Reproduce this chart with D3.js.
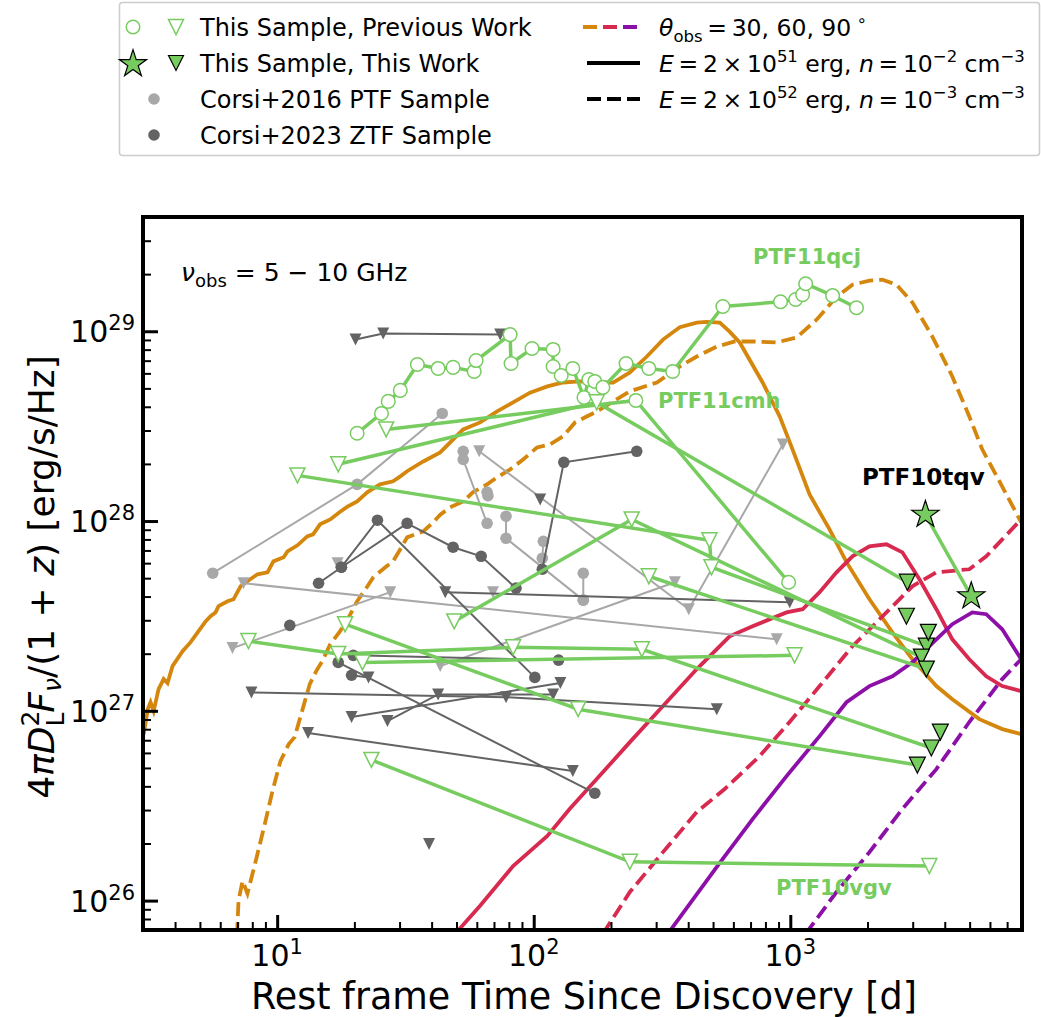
<!DOCTYPE html>
<html>
<head>
<meta charset="utf-8">
<script src="https://cdn.jsdelivr.net/npm/d3@7"></script>
<style>
  body { margin: 0; background: #fff; }
  svg text { font-family: "DejaVu Sans", sans-serif; }
</style>
</head>
<body>
<svg id="chart" width="1041" height="1017"></svg>
<script>
// ---- model light curves: [rest-frame days, 4 pi D^2 F / (1+z)] ----
const orangeSolid = [[3.02,7.54e26],[3.13,1.02e27],[3.21,1.11e27],[3.30,9.96e26],[3.45,1.30e27],[3.61,1.47e27],[3.74,1.40e27],[3.91,1.72e27],[4.28,2.06e27],[4.60,2.30e27],[4.94,2.63e27],[5.26,2.96e27],[5.50,3.15e27],[5.75,3.30e27],[5.91,3.56e27],[6.41,3.78e27],[6.76,3.87e27],[7.20,4.53e27],[7.66,4.82e27],[8.38,5.24e27],[9.17,5.37e27],[9.67,6.13e27],[10.6,6.44e27],[10.97,6.92e27],[12.0,7.45e27],[13.1,8.30e27],[13.8,8.51e27],[14.7,9.61e27],[16.1,1.02e28],[17.6,1.12e28],[18.8,1.19e28],[20.5,1.27e28],[22.5,1.42e28],[25.2,1.56e28],[28.3,1.62e28],[30.2,1.72e28],[32.1,1.83e28],[37.1,2.06e28],[43.2,2.30e28],[53.1,3.04e28],[61.8,3.31e28],[72.0,3.78e28],[83.1,4.22e28],[96.7,4.75e28],[113,5.12e28],[130,5.37e28],[151,5.44e28],[176,5.37e28],[204,5.37e28],[237,6.07e28],[276,7.36e28],[319,9.04e28],[371,1.05e29],[432,1.11e29],[472,1.12e29],[531,1.11e29],[580,9.96e28],[635,8.73e28],[780,5.37e28],[909,3.56e28],[1021,2.38e28],[1189,1.38e28],[1422,9.04e27],[1656,6.07e27],[2035,3.87e27],[2500,2.59e27],[2991,1.87e27],[3710,1.35e27],[4280,1.15e27],[5453,9.04e26],[6700,8.01e26],[7940,7.54e26]];
const orangeDashed = [[6.97,6.5e25],[7.07,9.98e25],[7.33,1.27e26],[7.66,1.09e26],[8.01,1.38e26],[8.38,1.76e26],[9.01,2.63e26],[9.59,3.78e26],[10.3,5.43e26],[11.1,6.68e26],[11.7,7.27e26],[12.5,9.96e26],[13.4,1.38e27],[14.2,1.62e27],[15.0,1.83e27],[16.1,2.24e27],[17.6,2.63e27],[19.3,3.23e27],[20.5,3.78e27],[22.1,4.37e27],[23.7,5.06e27],[26.4,5.71e27],[28.3,6.13e27],[30.2,7.10e27],[32.1,8.20e27],[34.5,8.51e27],[37.1,8.83e27],[40.6,9.84e27],[43.2,1.08e28],[47.2,1.18e28],[53.1,1.27e28],[58.1,1.42e28],[65.8,1.56e28],[72.0,1.70e28],[80.9,1.87e28],[90.9,2.11e28],[103,2.44e28],[116,2.54e28],[130,2.79e28],[145,3.31e28],[176,3.78e28],[237,4.82e28],[302,5.37e28],[371,6.52e28],[432,7.36e28],[517,8.30e28],[607,8.83e28],[726,8.83e28],[885,8.73e28],[1058,9.27e28],[1266,1.15e29],[1514,1.52e29],[1747,1.76e29],[2035,1.85e29],[2286,1.87e29],[2591,1.76e29],[2991,1.42e29],[3578,9.38e28],[4280,5.78e28],[4985,3.56e28],[5603,2.38e28],[6700,1.52e28],[7940,9.84e27]];
const crimsonSolid = [[49.4,6.68e25],[61.8,9.4e25],[83.1,1.52e26],[113,2.19e26],[138,3.04e26],[176,4.37e26],[237,6.84e26],[319,1.06e27],[432,1.66e27],[580,2.47e27],[713,2.79e27],[967,3.30e27],[1117,3.43e27],[1301,4.22e27],[1514,5.37e27],[1747,6.52e27],[2035,7.36e27],[2370,7.54e27],[2735,6.84e27],[3186,4.93e27],[3710,3.43e27],[4280,2.38e27],[4985,1.87e27],[5804,1.52e27],[6700,1.35e27],[7940,1.27e27]];
const crimsonDashed = [[186,6.68e25],[237,1.11e26],[319,1.80e26],[432,2.93e26],[555,3.87e26],[760,5.78e26],[994,8.73e26],[1301,1.35e27],[1747,2.19e27],[2370,3.30e27],[2991,4.53e27],[3710,5.37e27],[4985,5.57e27],[5804,6.52e27],[6700,8.0e27],[7940,1.02e28]];
const purpleSolid = [[333,6.68e25],[531,1.58e26],[713,2.69e26],[967,4.53e26],[1301,7.36e26],[1656,1.11e27],[2035,1.35e27],[2500,1.52e27],[2991,1.80e27],[3710,2.38e27],[4280,2.86e27],[5120,3.30e27],[5804,3.23e27],[6700,2.69e27],[7940,1.87e27]];
const purpleDashed = [[1147,6.68e25],[1514,1.11e26],[2035,1.80e26],[2735,3.04e26],[3710,4.93e26],[4985,8.73e26],[6700,1.47e27],[7940,1.87e27]];

const ORANGE = '#d4870c', CRIMSON = '#d8294f', PURPLE = '#8c10a8';
const models = [
  { pts: orangeSolid, color: ORANGE, dash: null },
  { pts: orangeDashed, color: ORANGE, dash: '14,6' },
  { pts: crimsonSolid, color: CRIMSON, dash: null },
  { pts: crimsonDashed, color: CRIMSON, dash: '14,6' },
  { pts: purpleSolid, color: PURPLE, dash: null },
  { pts: purpleDashed, color: PURPLE, dash: '14,6' },
];

// ---- this sample (green). o = detection, v = prev. upper limit, V = this work upper limit, s = this work detection ----
const ptf11qcj = [[20.5,2.90e28,'o'],[25.5,3.69e28,'o'],[27.1,4.27e28,'o'],[30.2,4.88e28,'o'],[35.2,6.68e28,'o'],[42.4,6.37e28,'o'],[48.5,6.45e28,'o'],[58.6,6.14e28,'o'],[59.6,7.01e28,'o'],[80.9,9.6e28,'o'],[81.6,6.76e28,'o'],[98.5,8.11e28,'o'],[119,8.02e28,'o'],[119,6.52e28,'o'],[128,5.85e28,'o'],[142,6.37e28,'o'],[157,4.48e28,'o'],[164,5.57e28,'o'],[173,5.44e28,'o'],[186,5.06e28,'o'],[229,6.76e28,'o'],[281,6.37e28,'o'],[348,6.14e28,'o'],[546,1.35e29,'o'],[916,1.43e29,'o'],[1049,1.47e29,'o'],[1117,1.56e29,'o'],[1148,1.78e29,'o'],[1462,1.54e29,'o'],[1811,1.33e29,'o']];
const ptf11cmh = [[26.6,3.04e28,'v'],[250,4.32e28,'o'],[985,4.76e27,'o']];
const ptf10tqv = [[3362,1.08e28,'s'],[5074,4.02e27,'s']];
const ptf10vgv = [[23.3,5.51e26,'v'],[237,1.60e26,'v'],[3483,1.52e26,'v']];
const sampleA = [[17.3,1.99e28,'v'],[176,4.22e28,'v'],[2858,4.76e27,'V']];
const sampleB = [[12.0,1.74e28,'v'],[484,7.91e27,'v'],[493,5.71e27,'v'],[3391,2.19e27,'V']];
const sampleC = [[49.0,2.96e27,'v'],[241,1.02e28,'v'],[3243,1.92e27,'V']];
const sampleD = [[281,5.12e27,'v'],[3391,1.66e27,'V']];
const sampleE = [[7.73,2.33e27,'v'],[17.3,1.99e27,'v'],[83.1,2.16e27,'v'],[264,2.11e27,'v'],[3546,6.37e26,'V']];
const sampleF = [[18.4,2.86e27,'v'],[149,1.02e27,'v'],[3128,5.18e26,'V']];
const sampleG = [[21.5,1.80e27,'v'],[1039,1.96e27,'v']];
const sampleLone = [[2835,3.15e27,'V'],[3452,2.59e27,'V'],[3844,7.73e26,'V']];
const greenObjects = [ptf11qcj, ptf11cmh, ptf10vgv, sampleA, sampleB, sampleC, sampleD, sampleE, sampleF, sampleG, ptf10tqv];

// ---- Corsi+2016 PTF (light gray) and Corsi+2023 ZTF (dark gray); c = detection, u = upper limit ----
const corsi2016 = [
  [[5.61,5.31e27,'c'],[20.5,1.56e28,'c'],[44.0,3.69e28,'c']],
  [[7.39,4.70e27,'u'],[885,2.38e27,'u']],
  [[6.70,2.14e27,'u'],[27.6,4.22e27,'u']],
  [[43.2,1.72e27,'u'],[355,4.76e27,'u']],
  [[17.2,5.99e27,'u']],
  [[69.4,4.22e27,'u']],
  [[61.3,2.33e28,'u'],[402,3.43e27,'u'],[935,2.53e28,'u']],
  [[53.1,2.33e28,'c'],[53.1,2.11e28,'c'],[65.8,9.73e27,'c']],
  [[65.8,1.42e28,'c'],[66.3,1.36e28,'c']],
  [[78.0,1.06e28,'c'],[78.0,8.11e27,'c'],[156,3.83e27,'c']],
  [[109,7.82e27,'c'],[108,6.37e27,'c']],
  [[156,5.31e27,'c'],[156,3.83e27,'c']],
];
const corsi2023 = [
  [[20.2,9.04e28,'u'],[25.9,9.73e28,'u'],[74.0,9.61e28,'u']],
  [[108,5.57e27,'c'],[131,2.04e28,'c'],[252,2.33e28,'c']],
  [[14.5,4.70e27,'c'],[17.8,5.71e27,'c'],[32.1,9.73e27,'c'],[48.5,7.28e27,'c'],[62.4,6.52e27,'c'],[85.3,4.43e27,'c']],
  [[17.8,5.71e27,'c'],[24.6,1.01e28,'c'],[101,1.50e27,'c']],
  [[11.2,2.82e27,'c']],
  [[7.94,1.25e27,'u'],[78.0,1.18e27,'u'],[517,1.02e27,'u']],
  [[19.5,9.27e26,'u'],[127,1.40e27,'u']],
  [[26.9,8.83e26,'u'],[42.4,1.22e27,'u'],[119,1.22e27,'u']],
  [[13.2,7.64e26,'u'],[142,4.82e26,'u']],
  [[39.1,1.99e26,'u']],
  [[17.3,1.80e27,'c'],[173,3.68e26,'c']],
  [[19.8,1.96e27,'c'],[125,1.85e27,'c']],
  [[19.5,1.54e27,'c'],[22.7,1.50e27,'u']],
  [[45.2,4.22e27,'u'],[995,3.73e27,'u']],
  [[106,1.30e28,'u']],
];

const xMajor = [10, 100, 1000];
const xMajorExp = ['1', '2', '3'];
const yMajor = [1e26, 1e27, 1e28, 1e29];
const yMajorExp = ['26', '27', '28', '29'];

const GREEN = '#77cc5f', LIGHT = '#a8a8a8', DARK = '#636363';

const svg = d3.select('#chart');
const x = d3.scaleLog().domain([3, 8000]).range([143, 1022]);
const y = d3.scaleLog().domain([7e25, 4e29]).range([930, 217]);

svg.append('defs').append('clipPath').attr('id', 'plotclip')
  .append('rect').attr('x', 143).attr('y', 217).attr('width', 879).attr('height', 713);

function tri(s) {
  return `M${-s / 2},${-s / 2}L${s / 2},${-s / 2}L0,${s / 2}Z`;
}
const starPath = d3.symbol().type(d3.symbolStar).size(230)();

let line = d3.line().x((d) => x(d[0])).y((d) => y(d[1]));
let plot = svg.append('g').attr('clip-path', 'url(#plotclip)');

// models
plot.append('g').selectAll('path').data(models).enter().append('path')
  .attr('d', (d) => line(d.pts))
  .attr('fill', 'none')
  .attr('stroke', (d) => d.color)
  .attr('stroke-width', 3.8)
  .attr('stroke-dasharray', (d) => d.dash);

function drawGray(data, color) {
  let g = plot.append('g');
  g.selectAll('path.l').data(data).enter().append('path').classed('l', true)
    .attr('d', line).attr('fill', 'none').attr('stroke', color).attr('stroke-width', 2);
  let pts = data.flat();
  g.selectAll('circle').data(pts.filter((d) => d[2] === 'c')).enter().append('circle')
    .attr('cx', (d) => x(d[0])).attr('cy', (d) => y(d[1])).attr('r', 5.8).attr('fill', color);
  g.selectAll('path.m').data(pts.filter((d) => d[2] === 'u')).enter().append('path').classed('m', true)
    .attr('d', tri(12)).attr('transform', (d) => `translate(${x(d[0])},${y(d[1])})`).attr('fill', color);
}
drawGray(corsi2016, LIGHT);
drawGray(corsi2023, DARK);

// green sample
let gg = plot.append('g');
gg.selectAll('path.l').data(greenObjects).enter().append('path').classed('l', true)
  .attr('d', line).attr('fill', 'none').attr('stroke', GREEN).attr('stroke-width', 3.5);
let gpts = greenObjects.flat().concat(sampleLone);
gg.selectAll('circle').data(gpts.filter((d) => d[2] === 'o')).enter().append('circle')
  .attr('cx', (d) => x(d[0])).attr('cy', (d) => y(d[1])).attr('r', 6.8)
  .attr('fill', 'white').attr('stroke', GREEN).attr('stroke-width', 1.5);
gg.selectAll('path.v').data(gpts.filter((d) => d[2] === 'v')).enter().append('path').classed('v', true)
  .attr('d', tri(15)).attr('transform', (d) => `translate(${x(d[0])},${y(d[1])})`)
  .attr('fill', 'white').attr('stroke', GREEN).attr('stroke-width', 1.5);
gg.selectAll('path.V').data(gpts.filter((d) => d[2] === 'V')).enter().append('path').classed('V', true)
  .attr('d', tri(16)).attr('transform', (d) => `translate(${x(d[0])},${y(d[1])})`)
  .attr('fill', GREEN).attr('stroke', 'black').attr('stroke-width', 1.2);
gg.selectAll('path.s').data(gpts.filter((d) => d[2] === 's')).enter().append('path').classed('s', true)
  .attr('d', starPath).attr('transform', (d) => `translate(${x(d[0])},${y(d[1])})`)
  .attr('fill', GREEN).attr('stroke', 'black').attr('stroke-width', 1.2);

// axes (inward ticks)
let minorX = [], minorY = [];
[1, 10, 100, 1000].forEach((d) => { for (let k = 2; k < 10; k++) if (k * d >= 3 && k * d <= 8000) minorX.push(k * d); });
[1e25, 1e26, 1e27, 1e28, 1e29].forEach((d) => { for (let k = 2; k < 10; k++) if (k * d >= 7e25 && k * d <= 4e29) minorY.push(k * d); });

function styleAxis(g, w) {
  g.select('.domain').remove();
  g.selectAll('line').attr('stroke', 'black').attr('stroke-width', w);
}
svg.append('g').attr('transform', 'translate(0,930)')
  .call(d3.axisBottom(x).tickValues(minorX).tickSize(-8).tickFormat(''))
  .call((g) => styleAxis(g, 2));
svg.append('g').attr('transform', 'translate(0,930)')
  .call(d3.axisBottom(x).tickValues(xMajor).tickSize(-15).tickFormat(''))
  .call((g) => styleAxis(g, 3));
svg.append('g').attr('transform', 'translate(143,0)')
  .call(d3.axisLeft(y).tickValues(minorY).tickSize(-8).tickFormat(''))
  .call((g) => styleAxis(g, 2));
svg.append('g').attr('transform', 'translate(143,0)')
  .call(d3.axisLeft(y).tickValues(yMajor).tickSize(-15).tickFormat(''))
  .call((g) => styleAxis(g, 3));

svg.append('rect').attr('x', 143).attr('y', 217).attr('width', 879).attr('height', 713)
  .attr('fill', 'none').attr('stroke', 'black').attr('stroke-width', 4);

// tick labels
xMajor.forEach((v, i) => {
  let t = svg.append('text').attr('x', x(v)).attr('y', 966).attr('text-anchor', 'middle')
    .attr('font-size', 30);
  t.append('tspan').text('10');
  t.append('tspan').attr('dy', -12).attr('font-size', 21).text(xMajorExp[i]);
});
yMajor.forEach((v, i) => {
  let t = svg.append('text').attr('x', 135).attr('y', y(v) + 11).attr('text-anchor', 'end')
    .attr('font-size', 30);
  t.append('tspan').text('10');
  t.append('tspan').attr('dy', -12).attr('font-size', 21).text(yMajorExp[i]);
});

// axis titles
svg.append('text').attr('x', 584).attr('y', 1009).attr('text-anchor', 'middle')
  .attr('font-size', 36.5).text('Rest frame Time Since Discovery [d]');
let yl = svg.append('text').attr('transform', 'translate(54,577) rotate(-90)')
  .attr('text-anchor', 'middle').attr('font-size', 36);
yl.append('tspan').text('4');
yl.append('tspan').attr('font-style', 'italic').text('πD');
yl.append('tspan').attr('dy', -15).attr('font-size', 25).text('2');
yl.append('tspan').attr('dx', -16).attr('dy', 25).attr('font-size', 25).text('L');
yl.append('tspan').attr('dy', -10).attr('font-style', 'italic').text('F');
yl.append('tspan').attr('dy', 7).attr('font-size', 25).attr('font-style', 'italic').text('ν');
yl.append('tspan').attr('dy', -7).text('/(1 + ');
yl.append('tspan').attr('font-style', 'italic').text('z');
yl.append('tspan').text(') [erg/s/Hz]');

// annotations
let nu = svg.append('text').attr('x', 181).attr('y', 281).attr('font-size', 25);
nu.append('tspan').attr('font-style', 'italic').text('ν');
nu.append('tspan').attr('dy', 6).attr('font-size', 18).text('obs');
nu.append('tspan').attr('dy', -6).text(' = 5 − 10 GHz');

const labels = [
  { text: 'PTF11qcj', x: 753, y: 264, color: GREEN, size: 21 },
  { text: 'PTF11cmh', x: 658, y: 408, color: GREEN, size: 21 },
  { text: 'PTF10tqv', x: 862, y: 485, color: 'black', size: 23 },
  { text: 'PTF10vgv', x: 776, y: 895, color: GREEN, size: 21 },
];
svg.selectAll('text.lab').data(labels).enter().append('text').classed('lab', true)
  .attr('x', (d) => d.x).attr('y', (d) => d.y).attr('fill', (d) => d.color)
  .attr('font-size', (d) => d.size).attr('font-weight', 'bold').text((d) => d.text);

// legend
let lg = svg.append('g');
lg.append('rect').attr('x', 119.5).attr('y', 2.5).attr('width', 920).attr('height', 153)
  .attr('rx', 3).attr('fill', 'white').attr('stroke', '#cccccc').attr('stroke-width', 1.5);
lg.append('circle').attr('cx', 133).attr('cy', 27).attr('r', 6.8).attr('fill', 'white')
  .attr('stroke', GREEN).attr('stroke-width', 1.5);
lg.append('path').attr('d', tri(15)).attr('transform', 'translate(176,27)')
  .attr('fill', 'white').attr('stroke', GREEN).attr('stroke-width', 1.5);
lg.append('path').attr('d', starPath).attr('transform', 'translate(133,64)')
  .attr('fill', GREEN).attr('stroke', 'black').attr('stroke-width', 1.2);
lg.append('path').attr('d', tri(15)).attr('transform', 'translate(176,63)')
  .attr('fill', GREEN).attr('stroke', 'black').attr('stroke-width', 1.2);
lg.append('circle').attr('cx', 154).attr('cy', 99).attr('r', 5.8).attr('fill', LIGHT);
lg.append('circle').attr('cx', 154).attr('cy', 135).attr('r', 5.8).attr('fill', DARK);
const legendText = ['This Sample, Previous Work', 'This Sample, This Work', 'Corsi+2016 PTF Sample', 'Corsi+2023 ZTF Sample'];
legendText.forEach((s, i) => {
  lg.append('text').attr('x', 200).attr('y', 36 + i * 36).attr('font-size', 24).text(s);
});
[[ORANGE, 583], [CRIMSON, 603], [PURPLE, 623]].forEach(([c, x0]) => {
  lg.append('line').attr('x1', x0).attr('x2', x0 + 14).attr('y1', 27).attr('y2', 27)
    .attr('stroke', c).attr('stroke-width', 4);
});
lg.append('line').attr('x1', 587).attr('x2', 640).attr('y1', 63).attr('y2', 63)
  .attr('stroke', 'black').attr('stroke-width', 4);
lg.append('line').attr('x1', 587).attr('x2', 640).attr('y1', 99).attr('y2', 99)
  .attr('stroke', 'black').attr('stroke-width', 4).attr('stroke-dasharray', '14,6');

const TS = '\u2009';
let t1 = lg.append('text').attr('x', 659).attr('y', 36).attr('font-size', 23.5);
t1.append('tspan').attr('font-style', 'italic').text('θ');
t1.append('tspan').attr('dy', 6).attr('font-size', 16.5).text('obs');
t1.append('tspan').attr('dy', -6).text(`${TS}=${TS}30, 60, 90`);
t1.append('tspan').attr('dy', -10).attr('font-size', 16.5).text(' ∘');

function energyRow(yy, eExp, nExp) {
  let t = lg.append('text').attr('x', 659).attr('y', yy).attr('font-size', 23.5);
  t.append('tspan').attr('font-style', 'italic').text('E');
  t.append('tspan').text(`${TS}=${TS}2${TS}×${TS}10`);
  t.append('tspan').attr('dy', -10).attr('font-size', 16.5).text(eExp);
  t.append('tspan').attr('dy', 10).text(' erg, ');
  t.append('tspan').attr('font-style', 'italic').text('n');
  t.append('tspan').text(`${TS}=${TS}10`);
  t.append('tspan').attr('dy', -10).attr('font-size', 16.5).text(nExp);
  t.append('tspan').attr('dy', 10).text(' cm');
  t.append('tspan').attr('dy', -10).attr('font-size', 16.5).text('−3');
}
energyRow(72, '51', '−2');
energyRow(108, '52', '−3');
</script>
</body>
</html>
